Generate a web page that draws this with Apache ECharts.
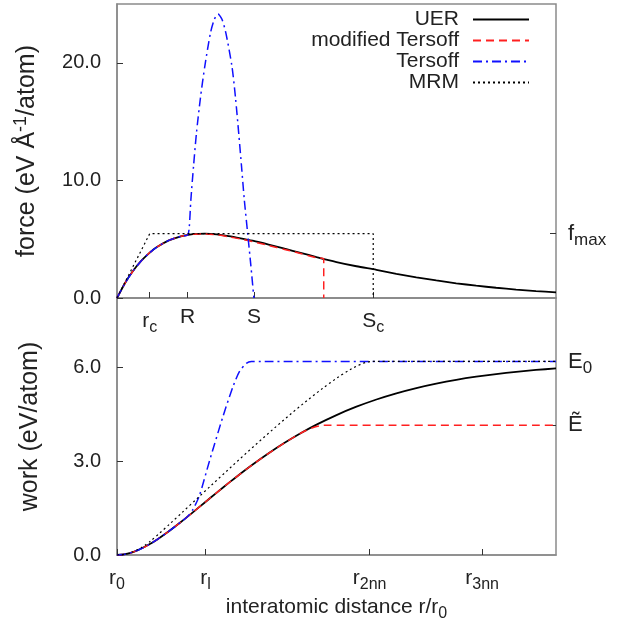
<!DOCTYPE html>
<html>
<head>
<meta charset="utf-8">
<script src="https://cdn.jsdelivr.net/npm/echarts@6/dist/echarts.min.js"></script>
<style>
html,body{margin:0;padding:0;background:#fff;}
#c{width:628px;height:624px;}
</style>
</head>
<body>
<div id="c"></div>
<script>
// ---------- data ----------
const xs = [1.00,1.02,1.04,1.06,1.08,1.10,1.13,1.16,1.19,1.22,1.25,1.28,1.31,1.34,1.38,1.42,1.46,1.50,1.55,1.60,1.65,1.70,1.75,1.80,1.85,1.90,1.95,2.00,2.05,2.10];
const uerForce = [0,1.26,2.29,3.13,3.80,4.33,4.90,5.25,5.43,5.47,5.41,5.27,5.08,4.87,4.54,4.19,3.84,3.48,3.06,2.70,2.40,2.06,1.76,1.49,1.25,1.05,0.87,0.72,0.59,0.48];
const uerWork = [0,0.025,0.094,0.199,0.333,0.491,0.760,1.054,1.364,1.680,1.996,2.306,2.605,2.893,3.254,3.588,3.893,4.170,4.476,4.743,4.974,5.171,5.339,5.481,5.602,5.703,5.788,5.859,5.918,5.968];

const modTersoffForce = [[1.00,0],[1.02,1.26],[1.04,2.29],[1.06,3.13],[1.08,3.80],[1.10,4.33],[1.13,4.90],[1.16,5.25],[1.19,5.42],[1.22,5.45],[1.25,5.37],[1.28,5.21],[1.31,5.01],[1.34,4.79],[1.38,4.47],[1.42,4.13],[1.46,3.78],[1.50,3.42],[1.518,3.30],[1.518,0]];
const modTersoffWork = [[1.00,0],[1.02,0.025],[1.04,0.094],[1.06,0.199],[1.08,0.333],[1.10,0.491],[1.13,0.760],[1.16,1.054],[1.19,1.364],[1.22,1.680],[1.25,1.996],[1.28,2.306],[1.31,2.605],[1.34,2.893],[1.38,3.254],[1.42,3.588],[1.46,3.893],[1.49,4.07],[1.518,4.15],[2.10,4.15]];

const tersoffForce = [[1.00,0],[1.02,1.26],[1.04,2.29],[1.06,3.13],[1.08,3.80],[1.10,4.33],[1.13,4.90],[1.16,5.25],[1.177,5.36],[1.181,6.0],[1.185,8.3],[1.192,11.3],[1.199,14.0],[1.209,17.0],[1.220,19.7],[1.234,22.5],[1.244,23.7],[1.253,24.15],[1.263,23.7],[1.273,22.5],[1.288,19.7],[1.297,17.0],[1.305,14.0],[1.312,11.2],[1.319,8.35],[1.3275,5.47],[1.335,2.9],[1.343,0]];
const tersoffWork = [[1.00,0],[1.02,0.025],[1.04,0.094],[1.06,0.199],[1.08,0.333],[1.10,0.491],[1.13,0.760],[1.16,1.054],[1.177,1.23],[1.19,1.45],[1.206,1.88],[1.232,3.02],[1.266,4.45],[1.291,5.40],[1.307,5.87],[1.324,6.13],[1.337,6.19],[2.10,6.19]];

const mrmForce = [[1.00,0],[1.082,5.47],[1.642,5.47],[1.642,0]];
const mrmWork = [[1.00,0],[1.01,0.006],[1.02,0.025],[1.03,0.057],[1.04,0.101],[1.05,0.158],[1.06,0.227],[1.07,0.309],[1.082,0.425],[1.638,6.19],[2.10,6.19]];

const seriesNames = ['UER','modified Tersoff','Tersoff','MRM'];
const forceTicks = [0,10,20];
const workTicks = [0,3,6];
const topXTicks = [1.082,1.177,1.343,1.642];
const topXNames = [['r','c'],['R',''],['S',''],['S','c']];
const bottomXTicks = [1.0,1.222,1.633,1.915];
const bottomXNames = [['r','0'],['r','l'],['r','2nn'],['r','3nn']];
const fmaxTick = [5.47];
const fmaxNames = [['f','max']];
const energyTicks = [6.19,4.15];
const energyNames = [['E','0'],['Ẽ','']];

// ---------- chart ----------
const FONT = 'Liberation Sans';
const TXT = '#222';
const FRAME = '#8a8a8a';
const rich = {
  b: {fontSize: 21, fontFamily: FONT, color: TXT},
  s: {fontSize: 16, fontFamily: FONT, color: TXT, padding: [13,0,0,0]},
  rb: {fontSize: 22, fontFamily: FONT, color: TXT},
  rs: {fontSize: 17, fontFamily: FONT, color: TXT, padding: [14,0,0,0]},
  t: {fontSize: 25, fontFamily: FONT, color: TXT},
  ts: {fontSize: 19, fontFamily: FONT, color: TXT, padding: [15,0,0,0]},
  sup: {fontSize: 18, fontFamily: FONT, color: TXT, padding: [0,0,13,0]}
};
function subLabel(ticks, names, big) {
  return function (v) {
    let best = 0, d = 1e9;
    ticks.forEach((t, i) => { if (Math.abs(t - v) < d) { d = Math.abs(t - v); best = i; } });
    const n = names[best];
    const B = big ? 'rb' : 'b', S = big ? 'rs' : 's';
    return '{' + B + '|' + n[0] + '}' + (n[1] ? '{' + S + '|' + n[1] + '}' : '');
  };
}
const X0 = 1.0, X1 = 2.1;
const grids = [
  {left: 117, right: 72, top: 4, height: 294, show: true, borderColor: FRAME, borderWidth: 1.5},
  {left: 117, right: 72, top: 298, height: 257, show: true, borderColor: FRAME, borderWidth: 1.5}
];
function xAxisCfg(gi, ticks, names, withName) {
  return {
    type: 'value', gridIndex: gi, min: X0, max: X1,
    axisLine: {show: true, lineStyle: {color: FRAME, width: 1.5}},
    axisTick: {show: true, inside: true, length: 6, customValues: ticks, lineStyle: {color: '#333', width: 1}},
    axisLabel: {customValues: ticks, formatter: subLabel(ticks, names, false), rich: rich, margin: 9},
    splitLine: {show: false},
    name: withName ? '{b|interatomic distance r/r}{s|0}' : '',
    nameLocation: 'middle', nameGap: 38,
    nameTextStyle: {rich: rich}
  };
}
function yAxisLeft(gi, max, ticks, title) {
  return {
    type: 'value', gridIndex: gi, min: 0, max: max,
    axisLine: {show: true, lineStyle: {color: FRAME, width: 1.5}},
    axisTick: {show: true, inside: true, length: 6, customValues: ticks, lineStyle: {color: '#333', width: 1}},
    axisLabel: {customValues: ticks, formatter: v => v.toFixed(1), fontSize: 20, fontFamily: FONT, color: TXT, margin: 16},
    splitLine: {show: false},
    name: title, nameLocation: 'middle', nameGap: 74, nameRotate: 90,
    nameTextStyle: {rich: rich}
  };
}
function yAxisRight(gi, max, ticks, names) {
  return {
    type: 'value', gridIndex: gi, min: 0, max: max, position: 'right',
    axisLine: {show: false},
    axisTick: {show: true, inside: true, length: 6, customValues: ticks, lineStyle: {color: '#333', width: 1}},
    axisLabel: {customValues: ticks, formatter: subLabel(ticks, names, true), rich: rich, margin: 12},
    splitLine: {show: false}
  };
}
function line(name, data, xi, yi, color, type, width) {
  return {
    name: name, type: 'line', data: data, xAxisIndex: xi, yAxisIndex: yi,
    showSymbol: false, symbol: 'none', smooth: 0.25, animation: false,
    lineStyle: {color: color, type: type, width: width}, itemStyle: {color: color}
  };
}
const toPairs = (xv, yv) => xv.map((x, i) => [x, yv[i]]);
const DASH = [8, 5], DASHDOT = [9, 4, 2, 4], DOT = [2, 3];
const legendTops = [9, 30, 51, 72];
const option = {
  animation: false,
  backgroundColor: '#fff',
  grid: grids,
  xAxis: [
    xAxisCfg(0, topXTicks, topXNames, false),
    xAxisCfg(1, bottomXTicks, bottomXNames, true)
  ],
  yAxis: [
    yAxisLeft(0, 25, forceTicks, '{t|force (eV Å}{sup|-1}{t|/atom)}'),
    yAxisLeft(1, 8.22, workTicks, '{t|work (eV/atom)}'),
    yAxisRight(0, 25, fmaxTick, fmaxNames),
    yAxisRight(1, 8.22, energyTicks, energyNames)
  ],
  legend: seriesNames.map((n, i) => ({
    data: [n], right: 98, top: legendTops[i], align: 'right', orient: 'vertical',
    padding: 0, itemWidth: 56, itemHeight: 20, itemGap: 0,
    itemStyle: {opacity: 0},
    textStyle: {fontSize: 21, fontFamily: FONT, color: TXT, padding: [0, 9, 0, 0]}
  })),
  series: [
    line('UER', toPairs(xs, uerForce), 0, 0, '#000', 'solid', 1.8),
    line('modified Tersoff', modTersoffForce, 0, 0, '#ff2020', DASH, 1.5),
    line('Tersoff', tersoffForce, 0, 0, '#1010ff', DASHDOT, 1.5),
    line('MRM', mrmForce, 0, 0, '#000', DOT, 1.2),
    line('UER', toPairs(xs, uerWork), 1, 1, '#000', 'solid', 1.8),
    line('modified Tersoff', modTersoffWork, 1, 1, '#ff2020', DASH, 1.5),
    line('Tersoff', tersoffWork, 1, 1, '#1010ff', DASHDOT, 1.5),
    line('MRM', mrmWork, 1, 1, '#000', DOT, 1.2)
  ]
};
option.series[3].smooth = false;
option.series[7].smooth = 0.15;
const chart = echarts.init(document.getElementById('c'), null, {renderer: 'canvas'});
chart.setOption(option);
</script>
</body>
</html>
